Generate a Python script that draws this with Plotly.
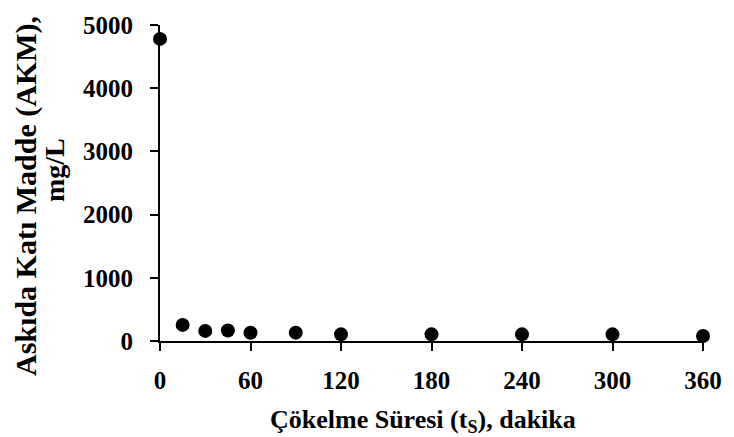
import plotly.graph_objects as go

time_min = [0, 15, 30, 45, 60, 90, 120, 180, 240, 300, 360]
akm_mgL = [4780, 255, 160, 165, 130, 132, 105, 105, 105, 105, 78]
x_ticks = [0, 60, 120, 180, 240, 300, 360]
y_ticks = [0, 1000, 2000, 3000, 4000, 5000]
x_title = "Çökelme Süresi (t<sub>S</sub>), dakika"
y_title_lines = ["Askıda Katı Madde (AKM),", "mg/L"]

fam = "Liberation Serif, Times New Roman, serif"
tick_font = dict(family=fam, size=25, color="black")

fig = go.Figure(go.Scatter(
    x=time_min, y=akm_mgL, mode="markers",
    marker=dict(color="black", size=14), cliponaxis=False,
))

L, R, T, B, W, H = 160, 22, 19, 96, 734, 437
pw, ph = W - L - R, H - T - B

fig.update_layout(
    width=W, height=H, margin=dict(l=L, r=R, t=T, b=B),
    paper_bgcolor="white", plot_bgcolor="white", showlegend=False,
    font=dict(family=fam, color="black"),
)
fig.update_xaxes(
    range=[0, 360], tickvals=x_ticks, ticktext=[f"<b>{v}</b>" for v in x_ticks],
    tickfont=tick_font,
    showline=True, linecolor="black", linewidth=2, ticks="outside", ticklen=8,
    tickwidth=2, tickcolor="black", showgrid=False, zeroline=False,
    ticklabelstandoff=8,
)
fig.update_yaxes(
    range=[0, 5000], tickvals=y_ticks, ticktext=[f"<b>{v}</b>" for v in y_ticks],
    tickfont=tick_font,
    showline=True, linecolor="black", linewidth=2, ticks="outside", ticklen=8,
    tickwidth=2, tickcolor="black", showgrid=False, zeroline=False,
    ticklabelstandoff=12,
)
fig.add_annotation(
    text=f"<b>{x_title}</b>",
    xref="paper", yref="paper", x=(427 - L) / pw, y=(H - B - 423) / ph,
    xanchor="center", yanchor="middle", showarrow=False,
    font=dict(family=fam, size=26, color="black"),
)
fig.add_annotation(
    text=f"<b>{y_title_lines[0]}</b>",
    xref="paper", yref="paper", x=(24 - L) / pw, y=(H - B - 193) / ph,
    xanchor="center", yanchor="middle", showarrow=False, textangle=-90,
    font=dict(family=fam, size=30, color="black"),
)
fig.add_annotation(
    text=f"<b>{y_title_lines[1]}</b>",
    xref="paper", yref="paper", x=(52 - L) / pw, y=(H - B - 167) / ph,
    xanchor="center", yanchor="middle", showarrow=False, textangle=-90,
    font=dict(family=fam, size=28, color="black"),
)

fig.write_html("out.html")
